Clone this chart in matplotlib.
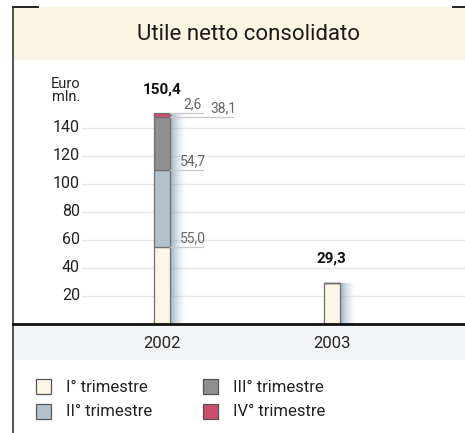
import numpy as np
import matplotlib
matplotlib.use("Agg")
import matplotlib.pyplot as plt
from matplotlib.patches import Rectangle

# ---- data ----
years = ["2002", "2003"]
q1 = [55.0, 29.3]
q2 = [54.7, 0.0]
q3 = [38.1, 0.0]
q4 = [2.6, 0.0]
totals = [150.4, 29.3]
yticks = [20, 40, 60, 80, 100, 120, 140]
series_names = ["I° trimestre", "II° trimestre", "III° trimestre", "IV° trimestre"]
seg_labels = ["55,0", "54,7", "38,1", "2,6"]
total_labels = ["150,4", "29,3"]

colors = ["#fdf6e4", "#b2c1cb", "#8f8f91", "#cc4d6c"]
FONT = ["Roboto", "DejaVu Sans"]
plt.rcParams["font.family"] = FONT

W, H = 465, 433
fig = plt.figure(figsize=(W / 100, H / 100), dpi=100)
fig.patch.set_facecolor("white")

def fx(px):
    return px / W

def fy(py):
    return 1 - py / H

# background bands
fig.patches.append(Rectangle((fx(13), fy(60)), fx(465 - 13), (60 - 7) / H,
                             transform=fig.transFigure, facecolor="#fcf5e4",
                             edgecolor="none", zorder=-5))
fig.patches.append(Rectangle((fx(13), fy(360)), fx(465 - 13), (360 - 323) / H,
                             transform=fig.transFigure, facecolor="#f4f5f7",
                             edgecolor="none", zorder=-5))

# main axes: x 13..465 px, y 60..323.5 px
x0_px, x1_px = 13, 465
ytop_px, y0_px = 60, 323.5
ax = fig.add_axes([fx(x0_px), fy(y0_px), fx(x1_px - x0_px), (y0_px - ytop_px) / H])
ax.set_zorder(2)
ax.patch.set_alpha(0)
pxu = 169.5  # pixels per category unit
c0 = 162.0   # pixel of first category
xlim = ((x0_px - c0) / pxu, (x1_px - c0) / pxu)
ppv = 1.3975  # pixels per value unit
ylim = (0, (y0_px - ytop_px) / ppv)
ax.set_xlim(*xlim)
ax.set_ylim(*ylim)
ax.axis("off")

x = np.arange(len(years))
bw = 16 / pxu

# gridlines
gx0 = (81 - c0) / pxu
ax.hlines(yticks, gx0, xlim[1], color="#e6e6ee", lw=1.0, zorder=1)
for t in yticks:
    ax.text((80 - c0) / pxu, t, str(t), ha="right", va="center",
            fontsize=11.5, color="#222222")
ax.text((80 - c0) / pxu, ylim[1] - 12, "Euro\nmln.", ha="right", va="top",
        fontsize=10.5, color="#222222", linespacing=0.95)

# shadows (gradient made of thin slices)
n_sl = 16
sh_w = 16 / pxu
for xi, tot in zip(x, totals):
    for k in range(n_sl):
        a = 0.75 * (1 - k / n_sl) ** 1.6
        ax.bar(xi + bw / 2 + (k + 0.5) * sh_w / n_sl, tot, sh_w / n_sl,
               color=(0.50, 0.60, 0.70), alpha=a, linewidth=0, zorder=2)

# stacked bars
bottom = np.zeros(len(years))
for vals, col in zip([q1, q2, q3, q4], colors):
    vals = np.array(vals)
    ax.bar(x, vals, bw, bottom=bottom, color=col, edgecolor="#6e6e6e",
           linewidth=0.9, zorder=3)
    bottom = bottom + vals
ax.set_xlim(*xlim)
ax.set_ylim(*ylim)

# segment labels for 2002 with leader lines
tops = np.cumsum([q1[0], q2[0], q3[0], q4[0]])
lab_start_px = [10, 10, 40, 13]
lab_end_px = [33, 33, 63, 33]
for top, lab, s, e in zip(tops, seg_labels, lab_start_px, lab_end_px):
    xs = x[0] + bw / 2
    ax.plot([xs, x[0] + (8 + e) / pxu], [top, top], color="#c9c9c9", lw=0.9, zorder=4)
    ax.text(x[0] + (8 + s) / pxu, top + 1.3, lab, ha="left", va="bottom",
            fontsize=10, color="#666666", zorder=5)

# totals
for xi, tot, lab in zip(x, totals, total_labels):
    ax.text(xi, tot + 12, lab, ha="center", va="bottom", fontsize=11,
            fontweight="bold", color="#111111", zorder=5)

# baseline
ax.plot(xlim, [0, 0], color="#111111", lw=2.0, zorder=6, clip_on=False)

# category labels
for xi, lab in zip(x, years):
    ax.text(xi, -(343 - y0_px) / ppv, lab, ha="center", va="center",
            fontsize=12, color="#222222", clip_on=False)

# frame lines
fig.add_artist(plt.Line2D([fx(13), fx(13)], [fy(7), fy(433)], transform=fig.transFigure,
                          color="#222222", lw=1.1))
fig.add_artist(plt.Line2D([fx(13), fx(38)], [fy(7), fy(7)], transform=fig.transFigure,
                          color="#222222", lw=1.4))
fig.add_artist(plt.Line2D([fx(453), fx(465)], [fy(7), fy(7)], transform=fig.transFigure,
                          color="#222222", lw=1.4))

# title
fig.text(fx(248), fy(34), "Utile netto consolidato", ha="center", va="center",
         fontsize=16, color="#1a1a1a")

# legend
leg_pos = [(36, 379), (36, 404), (203, 379), (203, 404)]
for (lx, ly), name, col in zip(leg_pos, series_names, colors):
    fig.patches.append(Rectangle((fx(lx), fy(ly + 15)), 15 / W, 15 / H,
                                 transform=fig.transFigure, facecolor=col,
                                 edgecolor="#555555", lw=0.9))
    fig.text(fx(lx + 30), fy(ly + 8), name, ha="left", va="center",
             fontsize=12, color="#222222")

fig.savefig("out.png", dpi=100)
